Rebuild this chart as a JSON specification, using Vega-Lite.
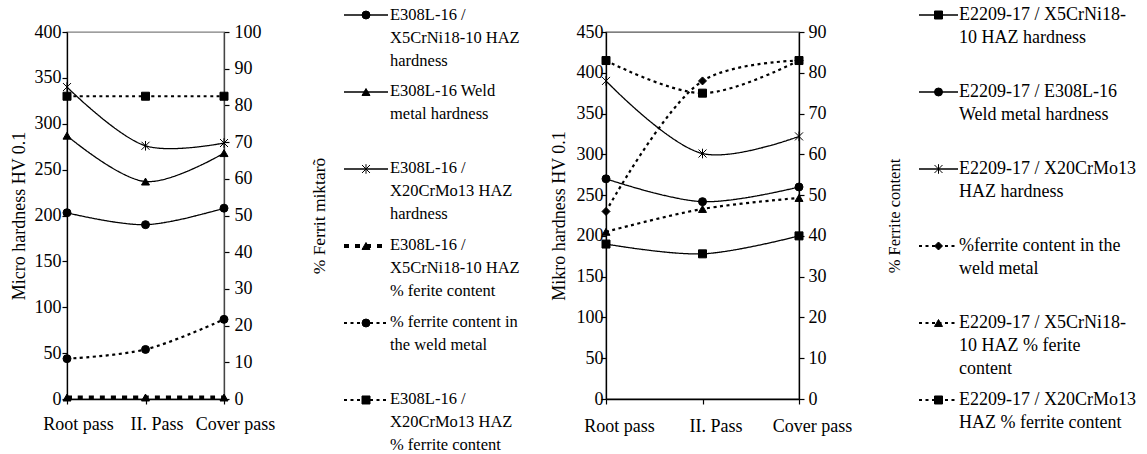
{
  "$schema": "https://vega.github.io/schema/vega-lite/v6.json",
  "background": "white",
  "padding": {"left": 9, "top": 6, "right": 5, "bottom": 0},
  "bounds": "flush",
  "center": true,
  "spacing": 120,
  "config": {
    "font": "Liberation Serif, Times New Roman, serif",
    "view": {"stroke": null},
    "axis": {
      "grid": false,
      "domainColor": "black",
      "domainWidth": 1.3,
      "tickColor": "black",
      "tickWidth": 1.2,
      "tickSize": 5,
      "labelColor": "black",
      "titleColor": "black",
      "labelFont": "Liberation Serif, Times New Roman, serif",
      "titleFont": "Liberation Serif, Times New Roman, serif",
      "labelFontSize": 18,
      "titleFontSize": 18,
      "titleFontWeight": "normal"
    }
  },
  "datasets": {
    "p1h": [
      {"series": "E308L-16 / X5CrNi18-10 HAZ hardness", "pass": "Root pass", "value": 203},
      {"series": "E308L-16 / X5CrNi18-10 HAZ hardness", "pass": "II. Pass", "value": 190},
      {"series": "E308L-16 / X5CrNi18-10 HAZ hardness", "pass": "Cover pass", "value": 208},
      {"series": "E308L-16 Weld metal hardness", "pass": "Root pass", "value": 287},
      {"series": "E308L-16 Weld metal hardness", "pass": "II. Pass", "value": 237},
      {"series": "E308L-16 Weld metal hardness", "pass": "Cover pass", "value": 268},
      {"series": "E308L-16 / X20CrMo13 HAZ hardness", "pass": "Root pass", "value": 340},
      {"series": "E308L-16 / X20CrMo13 HAZ hardness", "pass": "II. Pass", "value": 276},
      {"series": "E308L-16 / X20CrMo13 HAZ hardness", "pass": "Cover pass", "value": 279}
    ],
    "p1f": [
      {"series": "E308L-16 / X5CrNi18-10 HAZ % ferite content", "pass": "Root pass", "value": 0.4},
      {"series": "E308L-16 / X5CrNi18-10 HAZ % ferite content", "pass": "II. Pass", "value": 0.4},
      {"series": "E308L-16 / X5CrNi18-10 HAZ % ferite content", "pass": "Cover pass", "value": 0.4},
      {"series": "% ferrite content in the weld metal", "pass": "Root pass", "value": 11},
      {"series": "% ferrite content in the weld metal", "pass": "II. Pass", "value": 13.5},
      {"series": "% ferrite content in the weld metal", "pass": "Cover pass", "value": 21.7},
      {"series": "E308L-16 / X20CrMo13 HAZ % ferrite content", "pass": "Root pass", "value": 82.5},
      {"series": "E308L-16 / X20CrMo13 HAZ % ferrite content", "pass": "II. Pass", "value": 82.5},
      {"series": "E308L-16 / X20CrMo13 HAZ % ferrite content", "pass": "Cover pass", "value": 82.5}
    ],
    "p2h": [
      {"series": "E2209-17 / X5CrNi18-10 HAZ hardness", "pass": "Root pass", "value": 190},
      {"series": "E2209-17 / X5CrNi18-10 HAZ hardness", "pass": "II. Pass", "value": 178},
      {"series": "E2209-17 / X5CrNi18-10 HAZ hardness", "pass": "Cover pass", "value": 200},
      {"series": "E2209-17 / E308L-16 Weld metal hardness", "pass": "Root pass", "value": 270},
      {"series": "E2209-17 / E308L-16 Weld metal hardness", "pass": "II. Pass", "value": 242},
      {"series": "E2209-17 / E308L-16 Weld metal hardness", "pass": "Cover pass", "value": 260},
      {"series": "E2209-17 / X20CrMo13 HAZ hardness", "pass": "Root pass", "value": 390},
      {"series": "E2209-17 / X20CrMo13 HAZ hardness", "pass": "II. Pass", "value": 301},
      {"series": "E2209-17 / X20CrMo13 HAZ hardness", "pass": "Cover pass", "value": 322}
    ],
    "p2f": [
      {"series": "%ferrite content in the weld metal", "pass": "Root pass", "value": 46},
      {"series": "%ferrite content in the weld metal", "pass": "II. Pass", "value": 78},
      {"series": "%ferrite content in the weld metal", "pass": "Cover pass", "value": 83},
      {"series": "E2209-17 / X5CrNi18-10 HAZ % ferite content", "pass": "Root pass", "value": 41},
      {"series": "E2209-17 / X5CrNi18-10 HAZ % ferite content", "pass": "II. Pass", "value": 46.6},
      {"series": "E2209-17 / X5CrNi18-10 HAZ % ferite content", "pass": "Cover pass", "value": 49.3},
      {"series": "E2209-17 / X20CrMo13 HAZ % ferrite content", "pass": "Root pass", "value": 83},
      {"series": "E2209-17 / X20CrMo13 HAZ % ferrite content", "pass": "II. Pass", "value": 75},
      {"series": "E2209-17 / X20CrMo13 HAZ % ferrite content", "pass": "Cover pass", "value": 83}
    ],
    "leg1": [
      {"series": "E308L-16 / X5CrNi18-10 HAZ hardness", "label": "E308L-16 /\nX5CrNi18-10 HAZ\nhardness"},
      {"series": "E308L-16 Weld metal hardness", "label": "E308L-16 Weld\nmetal  hardness"},
      {"series": "E308L-16 / X20CrMo13 HAZ hardness", "label": "E308L-16 /\nX20CrMo13 HAZ\nhardness"},
      {"series": "E308L-16 / X5CrNi18-10 HAZ % ferite content", "label": "E308L-16 /\nX5CrNi18-10 HAZ\n% ferite content"},
      {"series": "% ferrite content in the weld metal", "label": "% ferrite content in\nthe weld metal"},
      {"series": "E308L-16 / X20CrMo13 HAZ % ferrite content", "label": "E308L-16 /\nX20CrMo13 HAZ\n% ferrite content"}
    ],
    "leg2": [
      {"series": "E2209-17 / X5CrNi18-10 HAZ hardness", "label": "E2209-17 / X5CrNi18-\n10 HAZ hardness"},
      {"series": "E2209-17 / E308L-16 Weld metal hardness", "label": "E2209-17 / E308L-16\nWeld metal  hardness"},
      {"series": "E2209-17 / X20CrMo13 HAZ hardness", "label": "E2209-17 / X20CrMo13\nHAZ hardness"},
      {"series": "%ferrite content in the weld metal", "label": " %ferrite content in the\nweld metal"},
      {"series": "E2209-17 / X5CrNi18-10 HAZ % ferite content", "label": " E2209-17 / X5CrNi18-\n10 HAZ % ferite\ncontent"},
      {"series": "E2209-17 / X20CrMo13 HAZ % ferrite content", "label": "E2209-17 / X20CrMo13\nHAZ % ferrite content"}
    ]
  },
  "hconcat": [
    {
      "width": 157,
      "height": 367,
      "view": {"stroke": "#7f7f7f", "strokeWidth": 1.3},
      "encoding": {
        "x": {"field": "pass", "type": "ordinal", "sort": ["Root pass", "II. Pass", "Cover pass"], "scale": {"type": "point", "padding": 0},
          "axis": {"title": null, "labelAngle": 0, "labelPadding": 11, "labelOffset": 11}}
      },
      "layer": [
        {
          "data": {"name": "p1h"},
          "encoding": {
            "y": {"field": "value", "type": "quantitative", "scale": {"domain": [0, 400], "nice": false},
              "axis": {"orient": "left", "title": "Micro hardness HV 0.1", "values": [0, 50, 100, 150, 200, 250, 300, 350, 400], "labelPadding": 1, "titlePadding": 6}}
          },
          "layer": [
            {"mark": {"type": "line", "interpolate": "catmull-rom", "color": "black"},
              "encoding": {
                "strokeDash": {"field": "series", "type": "nominal", "legend": null, "scale": {"type": "ordinal", "domain": ["E308L-16 / X5CrNi18-10 HAZ hardness", "E308L-16 Weld metal hardness", "E308L-16 / X20CrMo13 HAZ hardness", "E308L-16 / X5CrNi18-10 HAZ % ferite content", "% ferrite content in the weld metal", "E308L-16 / X20CrMo13 HAZ % ferrite content", "E2209-17 / X5CrNi18-10 HAZ hardness", "E2209-17 / E308L-16 Weld metal hardness", "E2209-17 / X20CrMo13 HAZ hardness", "%ferrite content in the weld metal", "E2209-17 / X5CrNi18-10 HAZ % ferite content", "E2209-17 / X20CrMo13 HAZ % ferrite content"], "range": [[1, 0], [1, 0], [1, 0], [5, 6], [3, 3.5], [3, 3.5], [1, 0], [1, 0], [1, 0], [3, 3.5], [3, 3.5], [3, 3.5]]}},
                "strokeWidth": {"field": "series", "type": "nominal", "legend": null, "scale": {"type": "ordinal", "domain": ["E308L-16 / X5CrNi18-10 HAZ hardness", "E308L-16 Weld metal hardness", "E308L-16 / X20CrMo13 HAZ hardness", "E308L-16 / X5CrNi18-10 HAZ % ferite content", "% ferrite content in the weld metal", "E308L-16 / X20CrMo13 HAZ % ferrite content", "E2209-17 / X5CrNi18-10 HAZ hardness", "E2209-17 / E308L-16 Weld metal hardness", "E2209-17 / X20CrMo13 HAZ hardness", "%ferrite content in the weld metal", "E2209-17 / X5CrNi18-10 HAZ % ferite content", "E2209-17 / X20CrMo13 HAZ % ferrite content"], "range": [1.3, 1.3, 1.3, 4, 2.2, 2.2, 1.3, 1.3, 1.3, 2.2, 2.2, 2.2]}}
              }},
            {"mark": {"type": "point", "filled": true, "color": "black", "stroke": "black", "strokeWidth": 1, "size": 64, "opacity": 1},
              "encoding": {
                "shape": {"field": "series", "type": "nominal", "legend": null, "scale": {"domain": ["E308L-16 / X5CrNi18-10 HAZ hardness", "E308L-16 Weld metal hardness", "E308L-16 / X20CrMo13 HAZ hardness", "E308L-16 / X5CrNi18-10 HAZ % ferite content", "% ferrite content in the weld metal", "E308L-16 / X20CrMo13 HAZ % ferrite content", "E2209-17 / X5CrNi18-10 HAZ hardness", "E2209-17 / E308L-16 Weld metal hardness", "E2209-17 / X20CrMo13 HAZ hardness", "%ferrite content in the weld metal", "E2209-17 / X5CrNi18-10 HAZ % ferite content", "E2209-17 / X20CrMo13 HAZ % ferrite content"], "range": ["circle", "triangle-up", "M-1,-1L1,1M1,-1L-1,1M0,-1.2L0,1.2", "triangle-up", "circle", "square", "square", "circle", "M-1,-1L1,1M1,-1L-1,1M0,-1.2L0,1.2", "diamond", "triangle-up", "square"]}}
              }}
          ]
        },
        {
          "data": {"name": "p1f"},
          "encoding": {
            "y": {"field": "value", "type": "quantitative", "scale": {"domain": [0, 100], "nice": false},
              "axis": {"orient": "right", "title": "% Ferrit miktarõ", "titleFontSize": 17.5, "values": [0, 10, 20, 30, 40, 50, 60, 70, 80, 90, 100], "labelPadding": 5, "titlePadding": 49, "titleAngle": 270, "titleBaseline": "top", "domainColor": "#444444"}}
          },
          "layer": [
            {"mark": {"type": "line", "interpolate": "catmull-rom", "color": "black"},
              "encoding": {
                "strokeDash": {"field": "series", "type": "nominal", "legend": null, "scale": {"type": "ordinal", "domain": ["E308L-16 / X5CrNi18-10 HAZ hardness", "E308L-16 Weld metal hardness", "E308L-16 / X20CrMo13 HAZ hardness", "E308L-16 / X5CrNi18-10 HAZ % ferite content", "% ferrite content in the weld metal", "E308L-16 / X20CrMo13 HAZ % ferrite content", "E2209-17 / X5CrNi18-10 HAZ hardness", "E2209-17 / E308L-16 Weld metal hardness", "E2209-17 / X20CrMo13 HAZ hardness", "%ferrite content in the weld metal", "E2209-17 / X5CrNi18-10 HAZ % ferite content", "E2209-17 / X20CrMo13 HAZ % ferrite content"], "range": [[1, 0], [1, 0], [1, 0], [5, 6], [3, 3.5], [3, 3.5], [1, 0], [1, 0], [1, 0], [3, 3.5], [3, 3.5], [3, 3.5]]}},
                "strokeWidth": {"field": "series", "type": "nominal", "legend": null, "scale": {"type": "ordinal", "domain": ["E308L-16 / X5CrNi18-10 HAZ hardness", "E308L-16 Weld metal hardness", "E308L-16 / X20CrMo13 HAZ hardness", "E308L-16 / X5CrNi18-10 HAZ % ferite content", "% ferrite content in the weld metal", "E308L-16 / X20CrMo13 HAZ % ferrite content", "E2209-17 / X5CrNi18-10 HAZ hardness", "E2209-17 / E308L-16 Weld metal hardness", "E2209-17 / X20CrMo13 HAZ hardness", "%ferrite content in the weld metal", "E2209-17 / X5CrNi18-10 HAZ % ferite content", "E2209-17 / X20CrMo13 HAZ % ferrite content"], "range": [1.3, 1.3, 1.3, 4, 2.2, 2.2, 1.3, 1.3, 1.3, 2.2, 2.2, 2.2]}}
              }},
            {"mark": {"type": "point", "filled": true, "color": "black", "stroke": "black", "strokeWidth": 1, "size": 64, "opacity": 1},
              "encoding": {
                "shape": {"field": "series", "type": "nominal", "legend": null, "scale": {"domain": ["E308L-16 / X5CrNi18-10 HAZ hardness", "E308L-16 Weld metal hardness", "E308L-16 / X20CrMo13 HAZ hardness", "E308L-16 / X5CrNi18-10 HAZ % ferite content", "% ferrite content in the weld metal", "E308L-16 / X20CrMo13 HAZ % ferrite content", "E2209-17 / X5CrNi18-10 HAZ hardness", "E2209-17 / E308L-16 Weld metal hardness", "E2209-17 / X20CrMo13 HAZ hardness", "%ferrite content in the weld metal", "E2209-17 / X5CrNi18-10 HAZ % ferite content", "E2209-17 / X20CrMo13 HAZ % ferrite content"], "range": ["circle", "triangle-up", "M-1,-1L1,1M1,-1L-1,1M0,-1.2L0,1.2", "triangle-up", "circle", "square", "square", "circle", "M-1,-1L1,1M1,-1L-1,1M0,-1.2L0,1.2", "diamond", "triangle-up", "square"]}}
              }}
          ]
        }
      ],
      "resolve": {"scale": {"y": "independent"}}
    },
    {
      "width": 142,
      "height": 401,
      "data": {"name": "leg1"},
      "encoding": {
        "y": {"field": "series", "type": "nominal", "sort": null, "scale": {"type": "point", "padding": 0.104, "align": 0}, "axis": null}
      },
      "layer": [
        {"mark": {"type": "rule", "color": "black"},
          "encoding": {
            "x": {"datum": 0, "type": "quantitative", "scale": {"domain": [0, 3.227], "nice": false, "zero": false}, "axis": null},
            "x2": {"datum": 1},
            "strokeDash": {"field": "series", "type": "nominal", "legend": null, "scale": {"type": "ordinal", "domain": ["E308L-16 / X5CrNi18-10 HAZ hardness", "E308L-16 Weld metal hardness", "E308L-16 / X20CrMo13 HAZ hardness", "E308L-16 / X5CrNi18-10 HAZ % ferite content", "% ferrite content in the weld metal", "E308L-16 / X20CrMo13 HAZ % ferrite content", "E2209-17 / X5CrNi18-10 HAZ hardness", "E2209-17 / E308L-16 Weld metal hardness", "E2209-17 / X20CrMo13 HAZ hardness", "%ferrite content in the weld metal", "E2209-17 / X5CrNi18-10 HAZ % ferite content", "E2209-17 / X20CrMo13 HAZ % ferrite content"], "range": [[1, 0], [1, 0], [1, 0], [5, 6], [3, 3.5], [3, 3.5], [1, 0], [1, 0], [1, 0], [3, 3.5], [3, 3.5], [3, 3.5]]}},
            "strokeWidth": {"field": "series", "type": "nominal", "legend": null, "scale": {"type": "ordinal", "domain": ["E308L-16 / X5CrNi18-10 HAZ hardness", "E308L-16 Weld metal hardness", "E308L-16 / X20CrMo13 HAZ hardness", "E308L-16 / X5CrNi18-10 HAZ % ferite content", "% ferrite content in the weld metal", "E308L-16 / X20CrMo13 HAZ % ferrite content", "E2209-17 / X5CrNi18-10 HAZ hardness", "E2209-17 / E308L-16 Weld metal hardness", "E2209-17 / X20CrMo13 HAZ hardness", "%ferrite content in the weld metal", "E2209-17 / X5CrNi18-10 HAZ % ferite content", "E2209-17 / X20CrMo13 HAZ % ferrite content"], "range": [1.3, 1.3, 1.3, 4, 2.2, 2.2, 1.3, 1.3, 1.3, 2.2, 2.2, 2.2]}}
          }},
        {"mark": {"type": "point", "filled": true, "color": "black", "stroke": "black", "strokeWidth": 1, "size": 64, "opacity": 1},
          "encoding": {
            "x": {"datum": 0.5, "type": "quantitative"},
            "shape": {"field": "series", "type": "nominal", "legend": null, "scale": {"domain": ["E308L-16 / X5CrNi18-10 HAZ hardness", "E308L-16 Weld metal hardness", "E308L-16 / X20CrMo13 HAZ hardness", "E308L-16 / X5CrNi18-10 HAZ % ferite content", "% ferrite content in the weld metal", "E308L-16 / X20CrMo13 HAZ % ferrite content", "E2209-17 / X5CrNi18-10 HAZ hardness", "E2209-17 / E308L-16 Weld metal hardness", "E2209-17 / X20CrMo13 HAZ hardness", "%ferrite content in the weld metal", "E2209-17 / X5CrNi18-10 HAZ % ferite content", "E2209-17 / X20CrMo13 HAZ % ferrite content"], "range": ["circle", "triangle-up", "M-1,-1L1,1M1,-1L-1,1M0,-1.2L0,1.2", "triangle-up", "circle", "square", "square", "circle", "M-1,-1L1,1M1,-1L-1,1M0,-1.2L0,1.2", "diamond", "triangle-up", "square"]}}
          }},
        {"mark": {"type": "text", "align": "left", "baseline": "top", "dx": 2, "dy": -8.5, "lineBreak": "\n", "lineHeight": 23, "fontSize": 16.5, "font": "Liberation Serif, Times New Roman, serif", "color": "black"},
          "encoding": {
            "x": {"datum": 1, "type": "quantitative"},
            "text": {"field": "label"}
          }}
      ]
    },
    {
      "width": 193,
      "height": 367,
      "view": {"stroke": "#555555", "strokeWidth": 1.3},
      "encoding": {
        "x": {"field": "pass", "type": "ordinal", "sort": ["Root pass", "II. Pass", "Cover pass"], "scale": {"type": "point", "padding": 0},
          "axis": {"title": null, "labelAngle": 0, "labelPadding": 13, "labelOffset": 13}}
      },
      "layer": [
        {
          "data": {"name": "p2h"},
          "encoding": {
            "y": {"field": "value", "type": "quantitative", "scale": {"domain": [0, 450], "nice": false},
              "axis": {"orient": "left", "title": "Mikro hardness  HV 0.1", "values": [0, 50, 100, 150, 200, 250, 300, 350, 400, 450], "labelPadding": -2, "titlePadding": 8}}
          },
          "layer": [
            {"mark": {"type": "line", "interpolate": "catmull-rom", "color": "black"},
              "encoding": {
                "strokeDash": {"field": "series", "type": "nominal", "legend": null, "scale": {"type": "ordinal", "domain": ["E308L-16 / X5CrNi18-10 HAZ hardness", "E308L-16 Weld metal hardness", "E308L-16 / X20CrMo13 HAZ hardness", "E308L-16 / X5CrNi18-10 HAZ % ferite content", "% ferrite content in the weld metal", "E308L-16 / X20CrMo13 HAZ % ferrite content", "E2209-17 / X5CrNi18-10 HAZ hardness", "E2209-17 / E308L-16 Weld metal hardness", "E2209-17 / X20CrMo13 HAZ hardness", "%ferrite content in the weld metal", "E2209-17 / X5CrNi18-10 HAZ % ferite content", "E2209-17 / X20CrMo13 HAZ % ferrite content"], "range": [[1, 0], [1, 0], [1, 0], [5, 6], [3, 3.5], [3, 3.5], [1, 0], [1, 0], [1, 0], [3, 3.5], [3, 3.5], [3, 3.5]]}},
                "strokeWidth": {"field": "series", "type": "nominal", "legend": null, "scale": {"type": "ordinal", "domain": ["E308L-16 / X5CrNi18-10 HAZ hardness", "E308L-16 Weld metal hardness", "E308L-16 / X20CrMo13 HAZ hardness", "E308L-16 / X5CrNi18-10 HAZ % ferite content", "% ferrite content in the weld metal", "E308L-16 / X20CrMo13 HAZ % ferrite content", "E2209-17 / X5CrNi18-10 HAZ hardness", "E2209-17 / E308L-16 Weld metal hardness", "E2209-17 / X20CrMo13 HAZ hardness", "%ferrite content in the weld metal", "E2209-17 / X5CrNi18-10 HAZ % ferite content", "E2209-17 / X20CrMo13 HAZ % ferrite content"], "range": [1.3, 1.3, 1.3, 4, 2.2, 2.2, 1.3, 1.3, 1.3, 2.2, 2.2, 2.2]}}
              }},
            {"mark": {"type": "point", "filled": true, "color": "black", "stroke": "black", "strokeWidth": 1, "size": 64, "opacity": 1},
              "encoding": {
                "shape": {"field": "series", "type": "nominal", "legend": null, "scale": {"domain": ["E308L-16 / X5CrNi18-10 HAZ hardness", "E308L-16 Weld metal hardness", "E308L-16 / X20CrMo13 HAZ hardness", "E308L-16 / X5CrNi18-10 HAZ % ferite content", "% ferrite content in the weld metal", "E308L-16 / X20CrMo13 HAZ % ferrite content", "E2209-17 / X5CrNi18-10 HAZ hardness", "E2209-17 / E308L-16 Weld metal hardness", "E2209-17 / X20CrMo13 HAZ hardness", "%ferrite content in the weld metal", "E2209-17 / X5CrNi18-10 HAZ % ferite content", "E2209-17 / X20CrMo13 HAZ % ferrite content"], "range": ["circle", "triangle-up", "M-1,-1L1,1M1,-1L-1,1M0,-1.2L0,1.2", "triangle-up", "circle", "square", "square", "circle", "M-1,-1L1,1M1,-1L-1,1M0,-1.2L0,1.2", "diamond", "triangle-up", "square"]}}
              }}
          ]
        },
        {
          "data": {"name": "p2f"},
          "encoding": {
            "y": {"field": "value", "type": "quantitative", "scale": {"domain": [0, 90], "nice": false},
              "axis": {"orient": "right", "title": "% Ferrite content", "titleFontSize": 16.5, "values": [0, 10, 20, 30, 40, 50, 60, 70, 80, 90], "labelPadding": 4, "titlePadding": 60, "titleAngle": 270, "titleBaseline": "top"}}
          },
          "layer": [
            {"mark": {"type": "line", "interpolate": "catmull-rom", "color": "black"},
              "encoding": {
                "strokeDash": {"field": "series", "type": "nominal", "legend": null, "scale": {"type": "ordinal", "domain": ["E308L-16 / X5CrNi18-10 HAZ hardness", "E308L-16 Weld metal hardness", "E308L-16 / X20CrMo13 HAZ hardness", "E308L-16 / X5CrNi18-10 HAZ % ferite content", "% ferrite content in the weld metal", "E308L-16 / X20CrMo13 HAZ % ferrite content", "E2209-17 / X5CrNi18-10 HAZ hardness", "E2209-17 / E308L-16 Weld metal hardness", "E2209-17 / X20CrMo13 HAZ hardness", "%ferrite content in the weld metal", "E2209-17 / X5CrNi18-10 HAZ % ferite content", "E2209-17 / X20CrMo13 HAZ % ferrite content"], "range": [[1, 0], [1, 0], [1, 0], [5, 6], [3, 3.5], [3, 3.5], [1, 0], [1, 0], [1, 0], [3, 3.5], [3, 3.5], [3, 3.5]]}},
                "strokeWidth": {"field": "series", "type": "nominal", "legend": null, "scale": {"type": "ordinal", "domain": ["E308L-16 / X5CrNi18-10 HAZ hardness", "E308L-16 Weld metal hardness", "E308L-16 / X20CrMo13 HAZ hardness", "E308L-16 / X5CrNi18-10 HAZ % ferite content", "% ferrite content in the weld metal", "E308L-16 / X20CrMo13 HAZ % ferrite content", "E2209-17 / X5CrNi18-10 HAZ hardness", "E2209-17 / E308L-16 Weld metal hardness", "E2209-17 / X20CrMo13 HAZ hardness", "%ferrite content in the weld metal", "E2209-17 / X5CrNi18-10 HAZ % ferite content", "E2209-17 / X20CrMo13 HAZ % ferrite content"], "range": [1.3, 1.3, 1.3, 4, 2.2, 2.2, 1.3, 1.3, 1.3, 2.2, 2.2, 2.2]}}
              }},
            {"mark": {"type": "point", "filled": true, "color": "black", "stroke": "black", "strokeWidth": 1, "size": 64, "opacity": 1},
              "encoding": {
                "shape": {"field": "series", "type": "nominal", "legend": null, "scale": {"domain": ["E308L-16 / X5CrNi18-10 HAZ hardness", "E308L-16 Weld metal hardness", "E308L-16 / X20CrMo13 HAZ hardness", "E308L-16 / X5CrNi18-10 HAZ % ferite content", "% ferrite content in the weld metal", "E308L-16 / X20CrMo13 HAZ % ferrite content", "E2209-17 / X5CrNi18-10 HAZ hardness", "E2209-17 / E308L-16 Weld metal hardness", "E2209-17 / X20CrMo13 HAZ hardness", "%ferrite content in the weld metal", "E2209-17 / X5CrNi18-10 HAZ % ferite content", "E2209-17 / X20CrMo13 HAZ % ferrite content"], "range": ["circle", "triangle-up", "M-1,-1L1,1M1,-1L-1,1M0,-1.2L0,1.2", "triangle-up", "circle", "square", "square", "circle", "M-1,-1L1,1M1,-1L-1,1M0,-1.2L0,1.2", "diamond", "triangle-up", "square"]}}
              }}
          ]
        }
      ],
      "resolve": {"scale": {"y": "independent"}}
    },
    {
      "width": 39,
      "height": 401,
      "data": {"name": "leg2"},
      "encoding": {
        "y": {"field": "series", "type": "nominal", "sort": null, "scale": {"type": "point", "padding": 0.104, "align": 0}, "axis": null}
      },
      "layer": [
        {"mark": {"type": "rule", "color": "black"},
          "encoding": {
            "x": {"datum": 0, "type": "quantitative", "scale": {"domain": [0, 1], "nice": false, "zero": false}, "axis": null},
            "x2": {"datum": 1},
            "strokeDash": {"field": "series", "type": "nominal", "legend": null, "scale": {"type": "ordinal", "domain": ["E308L-16 / X5CrNi18-10 HAZ hardness", "E308L-16 Weld metal hardness", "E308L-16 / X20CrMo13 HAZ hardness", "E308L-16 / X5CrNi18-10 HAZ % ferite content", "% ferrite content in the weld metal", "E308L-16 / X20CrMo13 HAZ % ferrite content", "E2209-17 / X5CrNi18-10 HAZ hardness", "E2209-17 / E308L-16 Weld metal hardness", "E2209-17 / X20CrMo13 HAZ hardness", "%ferrite content in the weld metal", "E2209-17 / X5CrNi18-10 HAZ % ferite content", "E2209-17 / X20CrMo13 HAZ % ferrite content"], "range": [[1, 0], [1, 0], [1, 0], [5, 6], [3, 3.5], [3, 3.5], [1, 0], [1, 0], [1, 0], [3, 3.5], [3, 3.5], [3, 3.5]]}},
            "strokeWidth": {"field": "series", "type": "nominal", "legend": null, "scale": {"type": "ordinal", "domain": ["E308L-16 / X5CrNi18-10 HAZ hardness", "E308L-16 Weld metal hardness", "E308L-16 / X20CrMo13 HAZ hardness", "E308L-16 / X5CrNi18-10 HAZ % ferite content", "% ferrite content in the weld metal", "E308L-16 / X20CrMo13 HAZ % ferrite content", "E2209-17 / X5CrNi18-10 HAZ hardness", "E2209-17 / E308L-16 Weld metal hardness", "E2209-17 / X20CrMo13 HAZ hardness", "%ferrite content in the weld metal", "E2209-17 / X5CrNi18-10 HAZ % ferite content", "E2209-17 / X20CrMo13 HAZ % ferrite content"], "range": [1.3, 1.3, 1.3, 4, 2.2, 2.2, 1.3, 1.3, 1.3, 2.2, 2.2, 2.2]}}
          }},
        {"mark": {"type": "point", "filled": true, "color": "black", "stroke": "black", "strokeWidth": 1, "size": 64, "opacity": 1},
          "encoding": {
            "x": {"datum": 0.5, "type": "quantitative"},
            "shape": {"field": "series", "type": "nominal", "legend": null, "scale": {"domain": ["E308L-16 / X5CrNi18-10 HAZ hardness", "E308L-16 Weld metal hardness", "E308L-16 / X20CrMo13 HAZ hardness", "E308L-16 / X5CrNi18-10 HAZ % ferite content", "% ferrite content in the weld metal", "E308L-16 / X20CrMo13 HAZ % ferrite content", "E2209-17 / X5CrNi18-10 HAZ hardness", "E2209-17 / E308L-16 Weld metal hardness", "E2209-17 / X20CrMo13 HAZ hardness", "%ferrite content in the weld metal", "E2209-17 / X5CrNi18-10 HAZ % ferite content", "E2209-17 / X20CrMo13 HAZ % ferrite content"], "range": ["circle", "triangle-up", "M-1,-1L1,1M1,-1L-1,1M0,-1.2L0,1.2", "triangle-up", "circle", "square", "square", "circle", "M-1,-1L1,1M1,-1L-1,1M0,-1.2L0,1.2", "diamond", "triangle-up", "square"]}}
          }},
        {"mark": {"type": "text", "align": "left", "baseline": "top", "dx": 1, "dy": -9, "lineBreak": "\n", "lineHeight": 23, "fontSize": 18, "font": "Liberation Serif, Times New Roman, serif", "color": "black"},
          "encoding": {
            "x": {"datum": 1, "type": "quantitative"},
            "text": {"field": "label"}
          }}
      ]
    }
  ]
}
